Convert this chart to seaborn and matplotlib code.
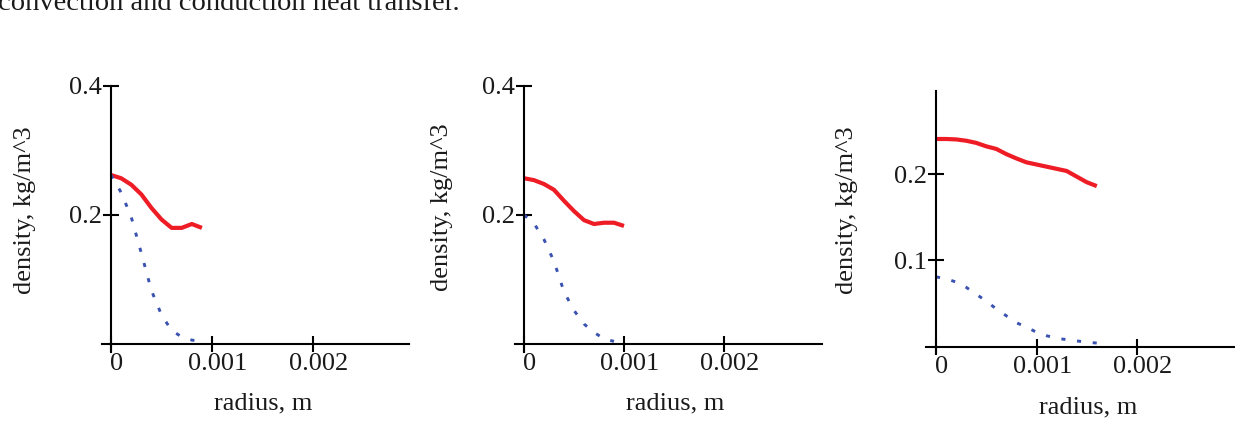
import matplotlib
matplotlib.use("Agg")
import matplotlib.pyplot as plt
import matplotlib.transforms as mtransforms
import seaborn as sns

# ---------------- data ----------------
radius_1 = [0.0, 0.0001, 0.0002, 0.0003, 0.0004, 0.0005, 0.0006, 0.0007, 0.0008, 0.0009]
solid_1 = [0.262, 0.257, 0.247, 0.232, 0.211, 0.193, 0.180, 0.180, 0.186, 0.180]
dotted_1 = [0.262, 0.235, 0.197, 0.141, 0.083, 0.045, 0.021, 0.011, 0.006, 0.004]

radius_2_solid = [0.0, 0.0001, 0.0002, 0.0003, 0.0004, 0.0005, 0.0006, 0.0007, 0.0008, 0.0009, 0.001]
solid_2 = [0.257, 0.254, 0.248, 0.239, 0.222, 0.206, 0.192, 0.186, 0.188, 0.188, 0.183]
radius_2_dotted = [0.0, 0.0001, 0.0002, 0.0003, 0.0004, 0.0005, 0.0006, 0.0007, 0.0008, 0.0009]
dotted_2 = [0.200, 0.187, 0.162, 0.128, 0.081, 0.052, 0.031, 0.018, 0.008, 0.004]

radius_3 = [0.0, 0.0001, 0.0002, 0.0003, 0.0004, 0.0005, 0.0006, 0.0007, 0.0008,
            0.0009, 0.001, 0.0011, 0.0012, 0.0013, 0.0014, 0.0015, 0.0016]
solid_3 = [0.2405, 0.2405, 0.240, 0.2385, 0.236, 0.232, 0.229, 0.223, 0.218,
           0.2135, 0.211, 0.2085, 0.206, 0.2035, 0.197, 0.1905, 0.186]
dotted_3 = [0.081, 0.079, 0.075, 0.069, 0.061, 0.053, 0.044, 0.036, 0.028,
            0.023, 0.017, 0.013, 0.010, 0.0085, 0.007, 0.0055, 0.0045]

x_ticks = [0, 0.001, 0.002]
x_tick_labels = ["0", "0.001", "0.002"]
y_ticks_12 = [0.2, 0.4]
y_tick_labels_12 = ["0.2", "0.4"]
y_ticks_3 = [0.1, 0.2]
y_tick_labels_3 = ["0.1", "0.2"]

x_label = "radius, m"
y_label = "density, kg/m^3"
top_text = "convection and conduction heat transfer."

RED = "#ee1c25"
BLUE = "#3a52b0"

# ---------------- style ----------------
sns.set_style("white")
plt.rcParams["font.family"] = ["Liberation Serif", "DejaVu Serif"]
FS = 19

W, H = 1235, 421
fig = plt.figure(figsize=(W / 100, H / 100), dpi=100)
fig.patch.set_facecolor("white")

# top text, cut by the upper edge as in the source page
fig.text(-0.002, 1 - 10 / H, top_text, fontsize=20.5, ha="left", va="baseline", color="#1a1a1a")


def px_axes(left, right, top, bottom):
    return fig.add_axes([left / W, 1 - bottom / H, (right - left) / W, (bottom - top) / H])


panels = [
    dict(box=(102, 409, 86, 351.7), xlim=(-0.0000891, 0.00295), ylim=(-0.012, 0.4),
         yt=y_ticks_12, ytl=y_tick_labels_12, ylab=(25, 210), xlab=(263, 403),
         series=[(radius_1, solid_1, "solid"), (radius_1, dotted_1, "dot")]),
    dict(box=(515, 822, 86, 351.7), xlim=(-0.00009, 0.00298), ylim=(-0.012, 0.4),
         yt=y_ticks_12, ytl=y_tick_labels_12, ylab=(442, 207), xlab=(675, 403),
         series=[(radius_2_solid, solid_2, "solid"), (radius_2_dotted, dotted_2, "dot")]),
    dict(box=(926, 1235, 91, 353), xlim=(-0.0000995, 0.002975), ylim=(-0.007, 0.296),
         yt=y_ticks_3, ytl=y_tick_labels_3, ylab=(847, 210), xlab=(1088, 407),
         series=[(radius_3, solid_3, "solid"), (radius_3, dotted_3, "dot")]),
]

offset = mtransforms.ScaledTranslation(6 / 100, 0, fig.dpi_scale_trans)

for p in panels:
    l, r, t, b = p["box"]
    ax = px_axes(l, r, t, b)
    ax.set_facecolor("none")
    for xs, ys, kind in p["series"]:
        if kind == "solid":
            sns.lineplot(x=xs, y=ys, ax=ax, color=RED, linewidth=3.0,
                         solid_capstyle="butt", solid_joinstyle="round")
        else:
            sns.lineplot(x=xs, y=ys, ax=ax, color=BLUE, linewidth=2.1,
                         linestyle=(0, (1.4, 4.0)), dash_capstyle="butt")
    ax.set_xlim(*p["xlim"])
    ax.set_ylim(*p["ylim"])
    for s in ["top", "right"]:
        ax.spines[s].set_visible(False)
    ax.spines["left"].set_position(("data", 0))
    ax.spines["bottom"].set_position(("data", 0))
    for s in ["left", "bottom"]:
        ax.spines[s].set_color("black")
        ax.spines[s].set_linewidth(1.5)
    ax.set_xticks(x_ticks)
    ax.set_xticklabels(x_tick_labels)
    ax.set_yticks(p["yt"])
    ax.set_yticklabels(p["ytl"])
    ax.tick_params(axis="both", direction="inout", length=11, width=1.5, color="black",
                   labelsize=FS, labelcolor="#1a1a1a", left=True, bottom=True)
    ax.tick_params(axis="x", pad=1)
    ax.tick_params(axis="y", pad=1)
    for lab in ax.get_xticklabels():
        lab.set_transform(lab.get_transform() + offset)
    ax.grid(False)

    ax.set_ylabel(y_label, fontsize=FS, color="#1a1a1a", va="center")
    ax.set_xlabel(x_label, fontsize=FS, color="#1a1a1a", va="center")
    yx, yy = p["ylab"]
    xx, xy = p["xlab"]
    ax.yaxis.set_label_coords((yx - l) / (r - l), (b - yy) / (b - t))
    ax.xaxis.set_label_coords((xx - l) / (r - l), (b - xy) / (b - t))

fig.savefig("out.png", dpi=100, facecolor="white")
